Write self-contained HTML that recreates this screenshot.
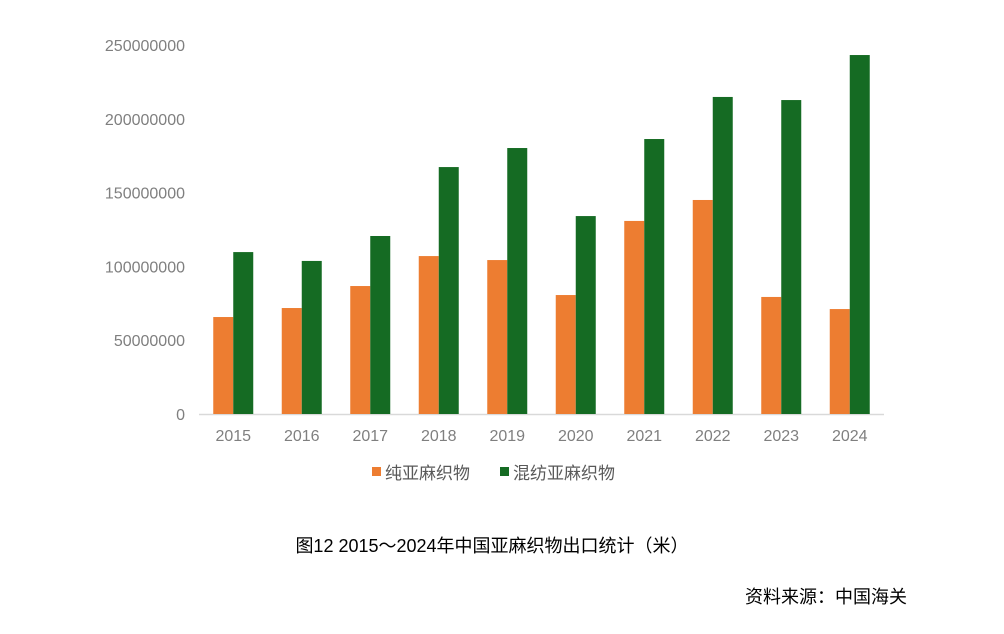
<!DOCTYPE html>
<html><head><meta charset="utf-8"><style>
body{margin:0;background:#fff;width:1004px;height:629px;overflow:hidden;font-family:"Liberation Sans","Noto Sans CJK SC",sans-serif}
</style></head><body>
<svg width="1004" height="629" xmlns="http://www.w3.org/2000/svg">
<g id="plot"></g>
<text x="492" y="552" text-anchor="middle" font-size="18" fill="#000" font-family="Liberation Sans, Noto Sans CJK SC, sans-serif">图12  2015～2024年中国亚麻织物出口统计（米）</text>
<text x="907" y="603" text-anchor="end" font-size="18" fill="#000" font-family="Liberation Sans, Noto Sans CJK SC, sans-serif">资料来源：中国海关</text>
</svg>
<script>
const categories=["2015","2016","2017","2018","2019","2020","2021","2022","2023","2024"];
const pureLinen=[65.7,71.8,86.7,107,104.3,80.6,130.8,145,79.3,71.1];
const blendedLinen=[109.7,103.7,120.6,167.3,180.2,134.1,186.3,214.8,212.7,243.2];
const yTicks=[0,50,100,150,200,250];
const yTickLabels=["0","50000000","100000000","150000000","200000000","250000000"];
const seriesNames=["纯亚麻织物","混纺亚麻织物"];
const NS="http://www.w3.org/2000/svg";
const g=document.getElementById('plot');
const x0=199,x1=884,yB=414,yT=45,yMax=250;
const band=(x1-x0)/categories.length;
const y=v=>yB-(v/yMax)*(yB-yT);
const xc=i=>x0+band*(i+0.5);
function mk(t,a){const e=document.createElementNS(NS,t);for(const k in a)e.setAttribute(k,a[k]);g.appendChild(e);return e;}
yTicks.forEach((v,i)=>{
 const t=mk('text',{x:185,y:y(v)+6,'text-anchor':'end','font-size':16,fill:'#7f7f7f'});
 t.textContent=yTickLabels[i];
 
 
});
const ax=mk('line',{x1:x0,x2:x1,y1:yB+0.5,y2:yB+0.5,stroke:'#d9d9d9','stroke-width':1.5});


const bw=20;
categories.forEach((c,i)=>{
 const cx=xc(i);
 const a=mk('rect',{x:cx-bw,y:y(pureLinen[i]),width:bw,height:yB-y(pureLinen[i]),fill:'#ED7D31'});
 
 
 const b=mk('rect',{x:cx,y:y(blendedLinen[i]),width:bw,height:yB-y(blendedLinen[i]),fill:'#156B23'});
 
 
 const t=mk('text',{x:cx,y:441,'text-anchor':'middle','font-size':16,fill:'#7f7f7f'});
 t.textContent=c;
 
 
});
const lg=[{x:372,c:'#ED7D31'},{x:500,c:'#156B23'}];
lg.forEach((l,i)=>{
 const r=mk('rect',{x:l.x,y:467,width:9,height:9,fill:l.c});
 
 
 const t=mk('text',{x:l.x+13,y:479,'font-size':17,fill:'#595959'});
 t.textContent=seriesNames[i];
 
 
});
</script>
</body></html>
